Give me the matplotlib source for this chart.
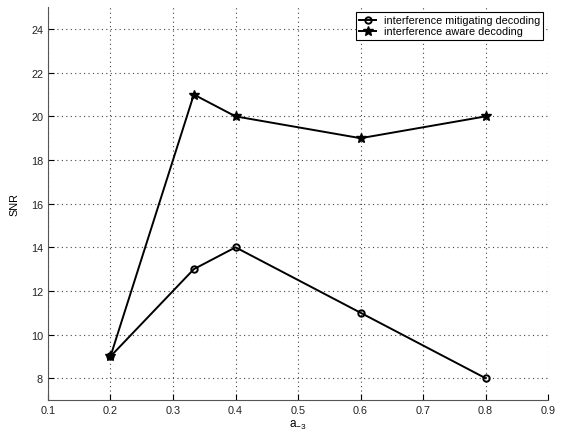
import numpy as np
import matplotlib
matplotlib.use('Agg')
import matplotlib.pyplot as plt

# data
a_vals = [0.2, 1 / 3, 0.4, 0.6, 0.8]
snr_mitigating = [9, 13, 14, 11, 8]
snr_aware = [9, 21, 20, 19, 20]
x_ticks = [0.1, 0.2, 0.3, 0.4, 0.5, 0.6, 0.7, 0.8, 0.9]
y_ticks = [8, 10, 12, 14, 16, 18, 20, 22, 24]

plt.rcParams['font.family'] = ['Liberation Sans', 'DejaVu Sans']
plt.rcParams['font.size'] = 7.8
plt.rcParams['mathtext.default'] = 'regular'

fig = plt.figure(figsize=(5.64, 4.35), dpi=100)
ax = fig.add_axes([0.085, 0.078, 0.887, 0.903])

ax.plot(a_vals, snr_mitigating, 'k-o', lw=1.4, ms=4.6, mfc='none', mew=1.4,
        label='interference mitigating decoding')
ax.plot(a_vals, snr_aware, 'k-*', lw=1.4, ms=7,
        label='interference aware decoding')

ax.set_xlim(0.1, 0.9)
ax.set_ylim(7, 25)
ax.set_xticks(x_ticks)
ax.set_xticklabels(['%.1f' % t for t in x_ticks])
ax.set_yticks(y_ticks)
ax.grid(True, color='#444444', linestyle=(0, (1, 3)), linewidth=0.8)
ax.tick_params(direction='in', length=4, color='k', labelcolor='#222222')
for s in ['top', 'right']:
    ax.spines[s].set_visible(False)
for s in ['left', 'bottom']:
    ax.spines[s].set_color('#555555')

ax.set_xlabel('a$_{-3}$', labelpad=2, fontsize=8.5)
ax.set_ylabel('SNR', labelpad=8)

leg = ax.legend(loc='upper right', fancybox=False, framealpha=1,
                edgecolor='k', borderpad=0.3, labelspacing=0.1,
                handlelength=1.6, handletextpad=0.7, borderaxespad=0.45)
leg.get_frame().set_linewidth(0.8)

fig.savefig('out.png', dpi=100)
